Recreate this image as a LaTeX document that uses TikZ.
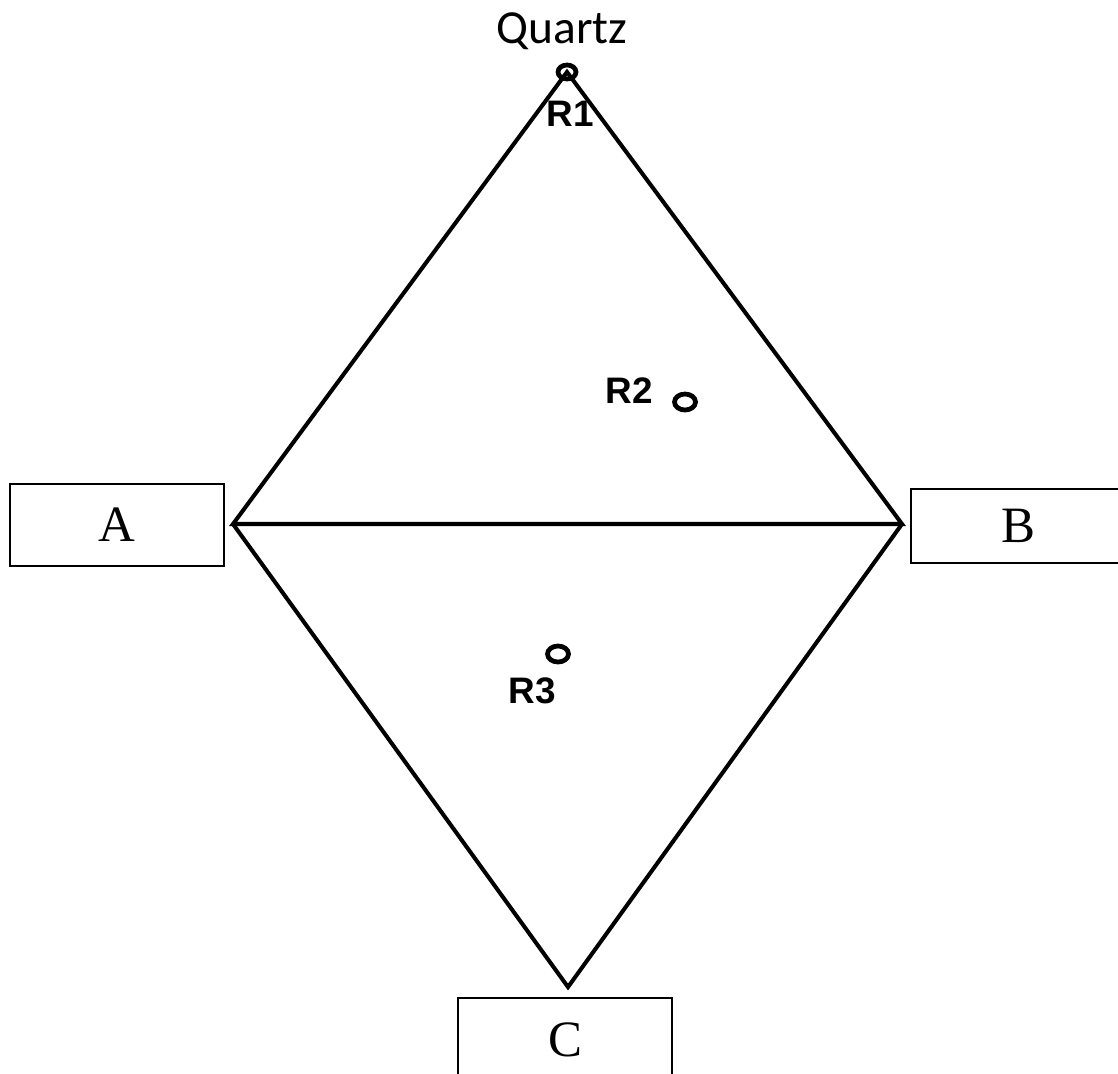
\documentclass[tikz,border=0pt]{standalone}
\usepackage{fontspec}
\setmainfont{Liberation Serif}
\newfontfamily\tagfont{Liberation Sans}
\newfontfamily\quartzfont{Carlito}
\usetikzlibrary{shapes.geometric}

\begin{document}
\begin{tikzpicture}[x=0.02cm, y=-0.02cm,
  edge/.style={line width=2.3pt, line join=miter},
  box/.style={draw, line width=0.8pt, minimum width=4.28cm, inner sep=0pt, font=\fontsize{29}{32}\selectfont},
  spot/.style={ellipse, draw, line width=2.7pt, minimum width=0.42cm, minimum height=0.32cm, inner sep=0pt},
  tag/.style={anchor=base, inner sep=0pt, font=\tagfont\bfseries\fontsize{21}{24}\selectfont}]
  \useasboundingbox (0,0) rectangle (1118,1073);
  \clip (0,0) rectangle (1118,1073);
  \fill[white] (0,0) rectangle (1118,1073);

  % corners of the two triangles
  \coordinate (top) at (567,72);
  \coordinate (left) at (233,524);
  \coordinate (right) at (902,524);
  \coordinate (bottom) at (568,987);

  \draw[edge] (left) -- (top) -- (right) -- cycle;
  \draw[edge] (left) -- (bottom) -- (right);

  % end members
  \node[box, minimum height=1.64cm] (boxA) at (117,525) {A};
  \node[box, minimum height=1.48cm] (boxB) at (1018,526) {B};
  \node[box, minimum height=1.68cm] (boxC) at (565,1040) {C};

  % samples
  \node[spot, minimum width=0.36cm, minimum height=0.28cm] (r1) at (top) {};
  \node[spot] (r2) at (685,402) {};
  \node[spot] (r3) at (558,654) {};

  \node[anchor=base, inner sep=0pt, font=\quartzfont\fontsize{27}{30}\selectfont] (quartz) at (562,43) {Quartz};
  \node[tag] (t1) at (570,126) {R1};
  \node[tag] (t2) at (629,403) {R2};
  \node[tag] (t3) at (532,703) {R3};
\end{tikzpicture}
\end{document}
